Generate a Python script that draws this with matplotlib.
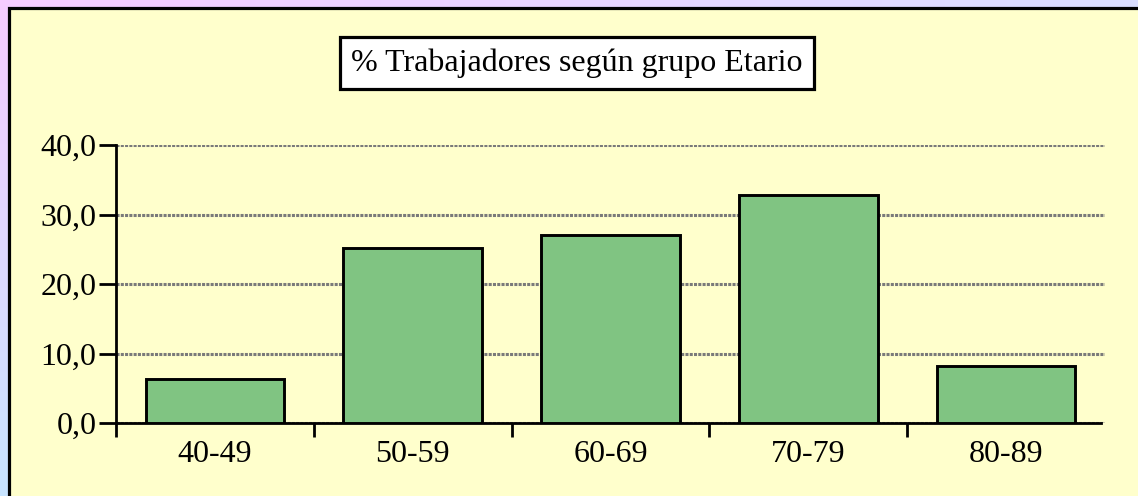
import matplotlib.pyplot as plt
import numpy as np
from matplotlib.patches import Rectangle

grupos = ['40-49', '50-59', '60-69', '70-79', '80-89']
porcentajes = [6.3, 25.2, 27.1, 32.8, 8.2]
yticks = [0, 10, 20, 30, 40]
titulo = '% Trabajadores según grupo Etario'

plt.rcParams['font.family'] = ['Liberation Serif', 'DejaVu Serif']

fig = plt.figure(figsize=(11.38, 4.96), dpi=100)

# fondo degradado fuera del panel
bg = fig.add_axes([0, 0, 1, 1], zorder=-10)
tl = np.array([246, 204, 255]) / 255
tr = np.array([218, 222, 255]) / 255
bl = np.array([200, 228, 255]) / 255
br = np.array([205, 225, 255]) / 255
u = np.linspace(0, 1, 200)[None, :, None]
v = np.linspace(0, 1, 100)[:, None, None]
grad = (1 - v) * ((1 - u) * tl + u * tr) + v * ((1 - u) * bl + u * br)
bg.imshow(grad, aspect='auto', extent=[0, 1, 0, 1], origin='upper')
bg.set_xlim(0, 1)
bg.set_ylim(0, 1)
bg.axis('off')
bg.add_patch(Rectangle((9 / 1138, -0.5), 2.0, 1.5 - 8 / 496,
                       facecolor='#ffffcc', edgecolor='black', linewidth=2.3,
                       clip_on=False))

ax = fig.add_axes([116 / 1138, 1 - 423 / 496, (1105 - 116) / 1138, (423 - 145) / 496])
ax.set_facecolor('none')
x = np.arange(len(grupos))
ax.bar(x, porcentajes, width=0.70, color='#80c482', edgecolor='black',
       linewidth=2.1, zorder=3)

ax.set_xlim(-0.5, len(grupos) - 0.5)
ax.set_ylim(0, 40)
ax.set_yticks(yticks)
ax.set_yticklabels(['{:.1f}'.format(t).replace('.', ',') for t in yticks], fontsize=23)
ax.set_xticks(x)
ax.set_xticklabels(grupos, fontsize=23)
ax.tick_params(axis='x', length=0, pad=12)
ax.set_xticks(np.arange(-0.5, len(grupos) - 1, 1), minor=True)
ax.tick_params(axis='x', which='minor', length=10, width=2, direction='out')
ax.tick_params(axis='y', length=12, width=2, direction='out', pad=2)
ax.yaxis.grid(True, color='#7a7a7a', linestyle=(0, (1, 0.4)), linewidth=2.2)
ax.set_axisbelow(True)
for side in ['top', 'right']:
    ax.spines[side].set_visible(False)
ax.spines['left'].set_linewidth(2)
ax.spines['bottom'].set_linewidth(2)
ax.spines['bottom'].set_bounds(-0.5, 4.5 - 4 / 197.8)

fig.text(577 / 1138, 1 - 63 / 496, titulo, ha='center', va='center', fontsize=23,
         bbox=dict(boxstyle='square,pad=0.35', facecolor='white', edgecolor='black',
                   linewidth=2.3))

fig.savefig('out.png', dpi=100)
